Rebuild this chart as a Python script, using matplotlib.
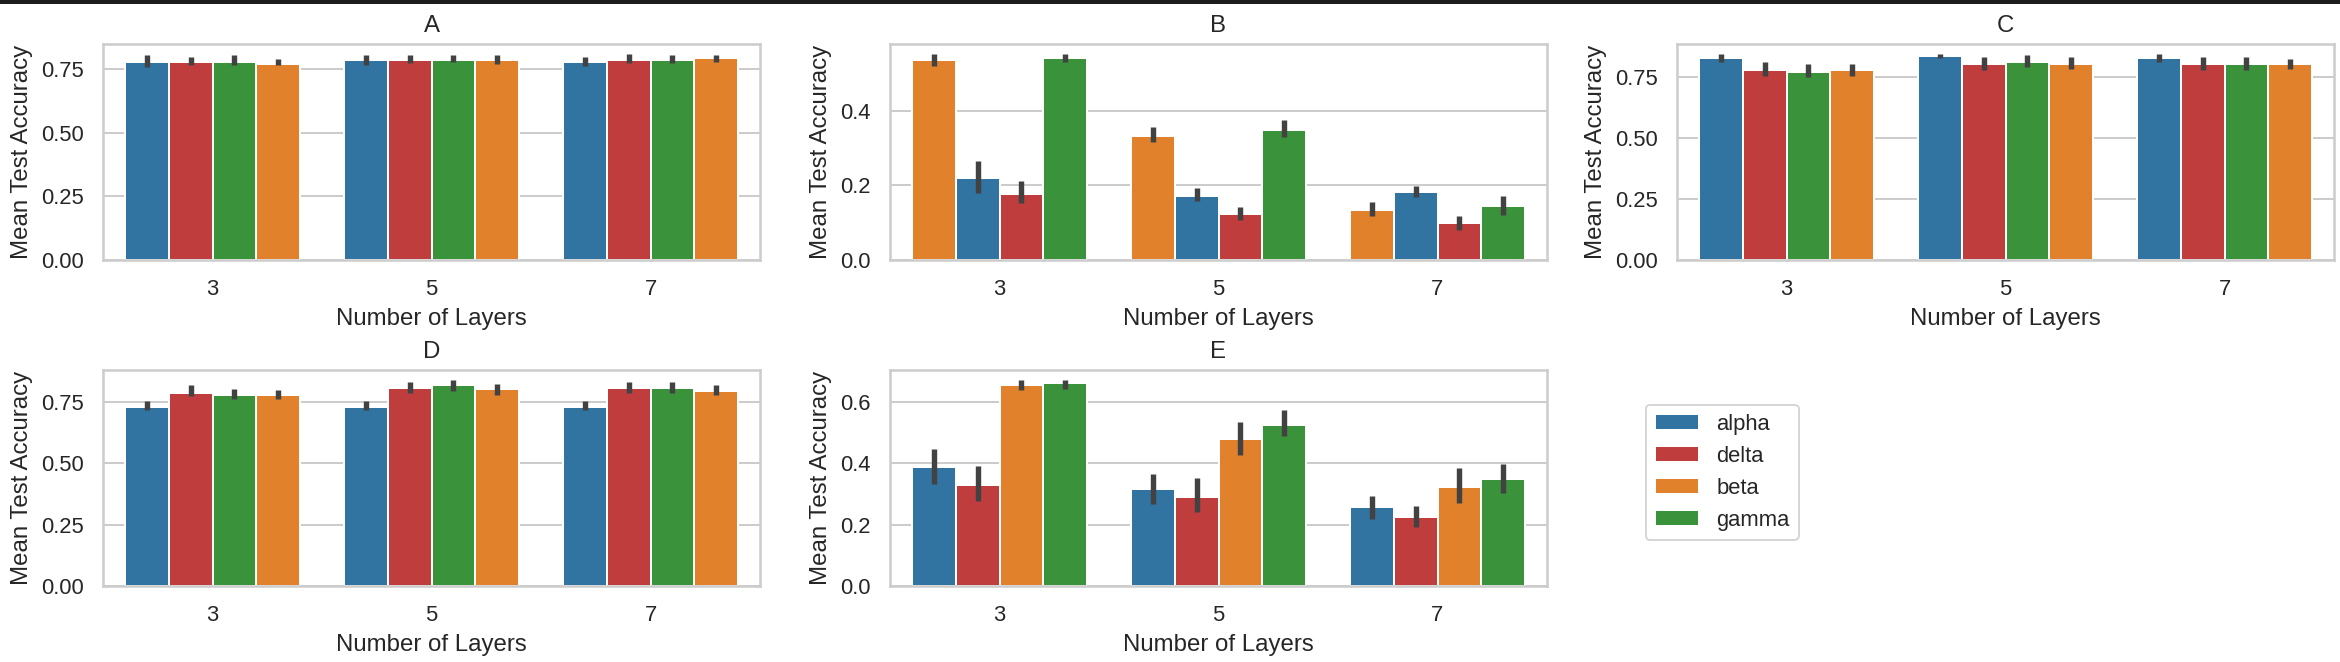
import numpy as np
import matplotlib
matplotlib.use('Agg')
import matplotlib.pyplot as plt
from matplotlib.patches import Rectangle, Patch
import seaborn as sns

sns.set_theme(style='whitegrid')
plt.rcParams['font.family'] = ['Liberation Sans', 'DejaVu Sans']

layers = ['3', '5', '7']

colors = {
    'alpha': '#3274a1',
    'delta': '#c03d3e',
    'beta': '#e1812c',
    'gamma': '#3a923a',
}

# panel A
A_order = ['alpha', 'delta', 'gamma', 'beta']
A_mean = [[0.779, 0.785, 0.779], [0.779, 0.785, 0.785], [0.779, 0.785, 0.785], [0.770, 0.785, 0.793]]
A_lo = [[0.759, 0.766, 0.763], [0.764, 0.772, 0.774], [0.766, 0.777, 0.772], [0.764, 0.770, 0.777]]
A_hi = [[0.806, 0.804, 0.796], [0.796, 0.804, 0.808], [0.806, 0.804, 0.804], [0.789, 0.804, 0.806]]

# panel B
B_order = ['beta', 'alpha', 'delta', 'gamma']
B_mean = [[0.536, 0.332, 0.135], [0.220, 0.172, 0.183], [0.178, 0.124, 0.098], [0.542, 0.348, 0.145]]
B_lo = [[0.520, 0.317, 0.118], [0.179, 0.157, 0.168], [0.152, 0.108, 0.081], [0.531, 0.329, 0.120]]
B_hi = [[0.551, 0.357, 0.156], [0.266, 0.193, 0.197], [0.212, 0.143, 0.117], [0.551, 0.375, 0.172]]

# panel C
C_order = ['alpha', 'delta', 'gamma', 'beta']
C_mean = [[0.828, 0.838, 0.828], [0.779, 0.804, 0.804], [0.771, 0.812, 0.804], [0.779, 0.804, 0.804]]
C_lo = [[0.813, 0.827, 0.813], [0.754, 0.779, 0.781], [0.749, 0.790, 0.781], [0.754, 0.785, 0.785]]
C_hi = [[0.844, 0.844, 0.844], [0.813, 0.833, 0.833], [0.803, 0.840, 0.833], [0.803, 0.833, 0.826]]

# panel D
D_order = ['alpha', 'delta', 'gamma', 'beta']
D_mean = [[0.727, 0.727, 0.727], [0.786, 0.807, 0.807], [0.776, 0.817, 0.807], [0.776, 0.801, 0.792]]
D_lo = [[0.715, 0.715, 0.715], [0.773, 0.786, 0.786], [0.762, 0.792, 0.786], [0.762, 0.776, 0.776]]
D_hi = [[0.751, 0.751, 0.751], [0.816, 0.830, 0.830], [0.803, 0.837, 0.830], [0.796, 0.823, 0.816]]

# panel E
E_order = ['alpha', 'delta', 'beta', 'gamma']
E_mean = [[0.387, 0.315, 0.257], [0.328, 0.290, 0.224], [0.654, 0.478, 0.322], [0.662, 0.524, 0.348]]
E_lo = [[0.332, 0.266, 0.220], [0.277, 0.241, 0.192], [0.638, 0.428, 0.272], [0.643, 0.488, 0.303]]
E_hi = [[0.446, 0.364, 0.293], [0.393, 0.353, 0.261], [0.671, 0.535, 0.385], [0.671, 0.573, 0.399]]

legend_order = ['alpha', 'delta', 'beta', 'gamma']

W, H = 2340, 662
fig = plt.figure(figsize=(W / 144, H / 144), dpi=144)


def make_ax(x0, y0, x1, y1):
    # pixel box -> figure fractions
    return fig.add_axes([x0 / W, 1 - y1 / H, (x1 - x0) / W, (y1 - y0) / H])


def draw_panel(ax, title, order, means, lo, hi, yticks, fmt):
    x = np.arange(len(layers))
    n = len(order)
    w = 0.8 / n
    for i, name in enumerate(order):
        m = np.array(means[i])
        err = np.vstack([m - np.array(lo[i]), np.array(hi[i]) - m])
        ax.bar(x - 0.4 + w * (i + 0.5), m, width=w, color=colors[name],
               edgecolor='white', linewidth=1, yerr=err,
               error_kw=dict(ecolor='#424242', elinewidth=2.7, capsize=0))
    ax.set_xlim(-0.5, 2.5)
    ax.set_xticks(x)
    ax.set_xticklabels(layers)
    ax.set_yticks(yticks)
    ax.set_yticklabels([fmt % t for t in yticks])
    ax.xaxis.grid(False)
    ax.set_title(title, fontsize=12)
    ax.set_xlabel('Number of Layers', fontsize=12)
    ax.set_ylabel('Mean Test Accuracy', fontsize=12)
    ax.tick_params(labelsize=11)


axA = make_ax(103, 44, 760, 260)
axB = make_ax(890, 44, 1547, 260)
axC = make_ax(1677, 44, 2334, 260)
axD = make_ax(103, 370, 760, 586)
axE = make_ax(890, 370, 1547, 586)

draw_panel(axA, 'A', A_order, A_mean, A_lo, A_hi, [0, 0.25, 0.5, 0.75], '%.2f')
draw_panel(axB, 'B', B_order, B_mean, B_lo, B_hi, [0, 0.2, 0.4], '%.1f')
draw_panel(axC, 'C', C_order, C_mean, C_lo, C_hi, [0, 0.25, 0.5, 0.75], '%.2f')
draw_panel(axD, 'D', D_order, D_mean, D_lo, D_hi, [0, 0.25, 0.5, 0.75], '%.2f')
draw_panel(axE, 'E', E_order, E_mean, E_lo, E_hi, [0, 0.2, 0.4, 0.6], '%.1f')

handles = [Patch(facecolor=colors[k], edgecolor='white', label=k) for k in legend_order]
fig.legend(handles=handles, loc='upper left', bbox_to_anchor=(1646 / W, 1 - 405 / H),
           borderaxespad=0, fontsize=11, frameon=True)

# dark strip along the top edge of the screenshot
fig.add_artist(Rectangle((0, 1 - 3 / H), 1, 3 / H, transform=fig.transFigure,
                         color='#1c1c1c', zorder=10))

fig.savefig('out.png', dpi=144)
